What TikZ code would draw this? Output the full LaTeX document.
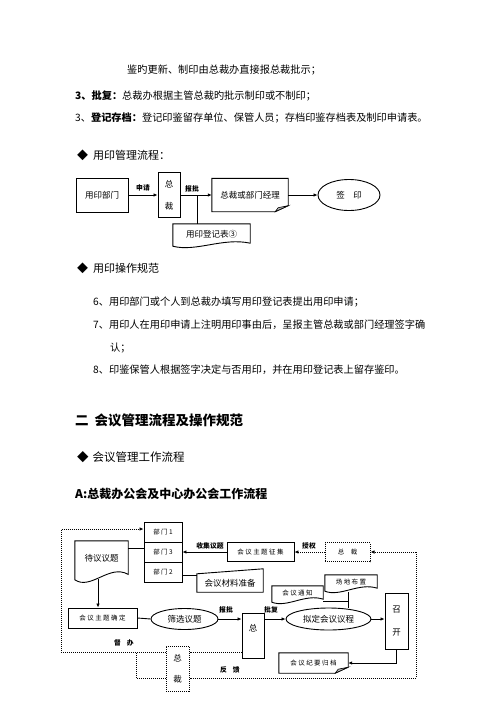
\documentclass[tikz,border=0pt]{standalone}
\usepackage{fontspec}
\setmainfont{Noto Sans CJK SC}
\newfontfamily\sparse[LetterSpace=22]{Noto Sans CJK SC}
\usetikzlibrary{arrows.meta,calc,shapes.geometric}
\tikzset{
 box/.style={draw, line width=0.9pt, inner sep=0pt, rectangle},
 plain/.style={inner sep=0pt, draw=none},
 ell/.style={draw, line width=0.9pt, ellipse, inner sep=0pt},
 dotbox/.style={draw, densely dotted, line width=1pt, inner sep=0pt},
 conn/.style={line width=0.9pt},
 arr/.style={line width=0.9pt, -{Latex[length=4pt,width=3.5pt]}},
 dotline/.style={densely dotted, line width=1pt},
 dotarr/.style={dotline, -{Latex[length=4pt,width=3.5pt]}},
 body/.style={anchor=west, inner sep=0pt, font=\fontsize{10.2}{12}\selectfont},
 lbl/.style={inner sep=0pt, font=\fontsize{6.8}{8}\selectfont\bfseries},
 ftxt/.style={font=\fontsize{8.5}{10}\selectfont},
 tinytxt/.style={font=\fontsize{6.5}{8}\selectfont\sparse},
}
\newcommand\wavedoc[2][1]{\draw[line width=0.9pt] (#2.north west) -- (#2.north east) -- ($(#2.south east)+(0,{-1*#1})$) .. controls ($(#2.south west)!0.65!(#2.south east)+(0,{-7*#1})$) and ($(#2.south west)!0.3!(#2.south east)+(0,{8*#1})$) .. ($(#2.south west)+(0,{2*#1})$) -- cycle;}
\newcommand\folddoc[1]{\draw[line width=0.9pt] (#1.north west) -- (#1.north east) -- ($(#1.south east)+(0,-6)$) -- ($(#1.south east)+(-13,0)$) -- (#1.south west) -- cycle;
\draw[line width=0.6pt, fill=gray!55] ($(#1.south east)+(0,-6)$) -- ($(#1.south east)+(-10,-4)$) -- ($(#1.south east)+(-13,0)$) -- cycle;}
\begin{document}
\begin{tikzpicture}[x=1pt,y=-1pt]
\useasboundingbox (0,0) rectangle (500,707);
\fill[white] (0,0) rectangle (500,707);
% ---------- text lines ----------
\node[body] (t1) at (127,70) {鉴旳更新、制印由总裁办直接报总裁批示；};
\node[body] (t2) at (75,96) {\textbf{3、批复：}总裁办根据主管总裁旳批示制印或不制印；};
\node[body] (t3) at (75,118) {3、\textbf{登记存档：}登记印鉴留存单位、保管人员；存档印鉴存档表及制印申请表。};
\node[body, font=\fontsize{11}{13}\selectfont] (h1) at (77,155) {◆\hspace{5pt}用印管理流程：};
\node[body, font=\fontsize{11}{13}\selectfont] (h2) at (77,268) {◆\hspace{5pt}用印操作规范};
\node[body] (p6) at (93,302) {6、用印部门或个人到总裁办填写用印登记表提出用印申请；};
\node[body] (p7) at (93,325) {7、用印人在用印申请上注明用印事由后，呈报主管总裁或部门经理签字确};
\node[body] (p7b) at (110,348) {认；};
\node[body] (p8) at (93,370) {8、印鉴保管人根据签字决定与否用印，并在用印登记表上留存鉴印。};
\node[body, font=\fontsize{13.5}{15}\selectfont\bfseries] (h3) at (75,420) {二\hspace{6pt}会议管理流程及操作规范};
\node[body, font=\fontsize{11.5}{13}\selectfont] (h4) at (77,457) {◆\hspace{4pt}会议管理工作流程};
\node[body, font=\fontsize{12}{14}\selectfont\bfseries] (h5) at (75,494) {A:总裁办公会及中心办公会工作流程};
% ---------- flowchart 1 ----------
\node[box, minimum width=52, minimum height=34, ftxt] (bumen) at (102,195) {用印部门};
\node[box, minimum width=22, minimum height=45, ftxt, align=center] (zc1) at (169,195) {总\\[12pt]裁};
\node[plain, minimum width=76, minimum height=33, ftxt] (jl) at (250,195) {总裁或部门经理};
\folddoc{jl}
\node[ell, minimum width=62, minimum height=31, ftxt] (qy) at (349,195) {签\quad 印};
\node[plain, minimum width=77, minimum height=20, ftxt] (djb) at (211.5,234) {用印登记表③};
\wavedoc{djb}
\draw[arr] (bumen) -- (zc1);
\draw[arr] (zc1) -- (jl);
\draw[arr] (jl) -- (qy);
\coordinate (j1) at (197,195);
\draw[conn] (j1) -- (j1 |- djb.north);
\node[lbl] (l1) at (143,188) {申请};
\node[lbl] (l2) at (192,189) {报批};
% ---------- flowchart 2 ----------
\node[box, minimum width=38, minimum height=20, tinytxt] (bm1) at (163,532) {部门1};
\node[box, minimum width=38, minimum height=20, tinytxt] (bm3) at (163,552) {部门3};
\node[box, minimum width=38, minimum height=20, tinytxt] (bm2) at (163,572) {部门2};
\node[plain, minimum width=53, minimum height=35, ftxt] (daiyi) at (101.5,558.5) {待议议题};
\wavedoc[1.8]{daiyi}
\node[box, minimum width=67, minimum height=19, tinytxt] (zhengji) at (260.5,552) {会议主题征集};
\node[plain, minimum width=66, minimum height=18, ftxt] (cl) at (230,583) {会议材料准备};
\draw[line width=0.9pt] (cl.south west) -- (cl.north west) -- ($(cl.north east)+(0,-5)$) -- (cl.south east) -- cycle;
\node[dotbox, minimum width=45, minimum height=19, tinytxt] (zcT) at (347.5,552) {总\quad 裁};
\node[box, minimum width=69, minimum height=20, tinytxt] (qd) at (102.5,618) {会议主题确定};
\node[ell, minimum width=67, minimum height=21, ftxt] (sx) at (184.5,619) {筛选议题};
\node[box, minimum width=22, minimum height=45] (zong2) at (253,635.5) {};
\node[ftxt] (zong2t) at (253,628) {总};
\node[ell, minimum width=85, minimum height=22, ftxt] (nd) at (328.5,619) {拟定会议议程};
\node[box, minimum width=23, minimum height=56, ftxt, align=center] (zk) at (396.5,621) {召\\[13pt]开};
\node[plain, minimum width=51, minimum height=14, tinytxt] (tz) at (297.5,593) {会议通知};
\wavedoc{tz}
\node[plain, minimum width=52, minimum height=14, tinytxt] (bz) at (351,582) {场地布置};
\wavedoc{bz}
\node[plain, minimum width=69, minimum height=20, tinytxt] (jy) at (313.5,663) {会议纪要归档};
\folddoc{jy}
\node[dotbox, minimum width=23, minimum height=45, ftxt, align=center] (zb) at (177.5,668.5) {总\\[11pt]裁};
% connectors
\draw[conn] ([yshift=4pt]bm3.west) -- ([yshift=4pt]bm3.west -| daiyi.east);
\coordinate (d1) at (98,579);
\draw[arr] (d1) -- (d1 |- qd.north);
\draw[arr] (zhengji.west) -- (zhengji.west -| bm3.east);
\draw[conn] ([yshift=-3pt]bm2.east) -- ([yshift=-3pt]bm2.east -| cl.west);
\draw[dotarr] (zcT.west) -- (zhengji.east);
\coordinate (r1) at (416,552);
\coordinate (r2) at (416,678);
\draw[dotarr] (r1) -- (zcT.east);
\draw[dotline] (r1) -- (r2) -- (r2 -| zb.east);
\coordinate (b1) at (136,678);
\coordinate (b2) at (136,652);
\draw[dotline] (b1 -| zb.west) -- (b1) -- (b2);
\coordinate (u1) at (61,652);
\coordinate (u2) at (61,529);
\draw[dotline] (u1 -| zong2.west) -- (u1 -| zb.east);
\draw[dotarr] (u1 -| zb.west) -- (u1) -- (u2) -- (u2 -| bm1.west);
\draw[conn] (qd.east) -- (sx.west);
\draw[arr] (sx.east) -- (sx.east -| zong2.west);
\draw[arr] (sx.east -| zong2.east) -- (nd.west);
\draw[arr] (nd.east) -- (nd.east -| zk.west);
\coordinate (v1) at (348,592);
\draw[conn] (v1) -- (v1 |- nd.north);
\coordinate (v2) at (348,601);
\draw[conn] (v2 -| tz.east) -- (v2);
\draw[arr] (zk.south) |- (jy.east);
\node[lbl] (l3) at (210,546) {收集议题};
\node[lbl] (l4) at (309,546) {授权};
\node[lbl] (l5) at (226,610) {报批};
\node[lbl] (l6) at (271,610) {批复};
\node[lbl] (l7) at (124,643) {督\hspace{6pt}办};
\node[lbl] (l8) at (230,670) {反\hspace{6pt}馈};
\end{tikzpicture}
\end{document}
